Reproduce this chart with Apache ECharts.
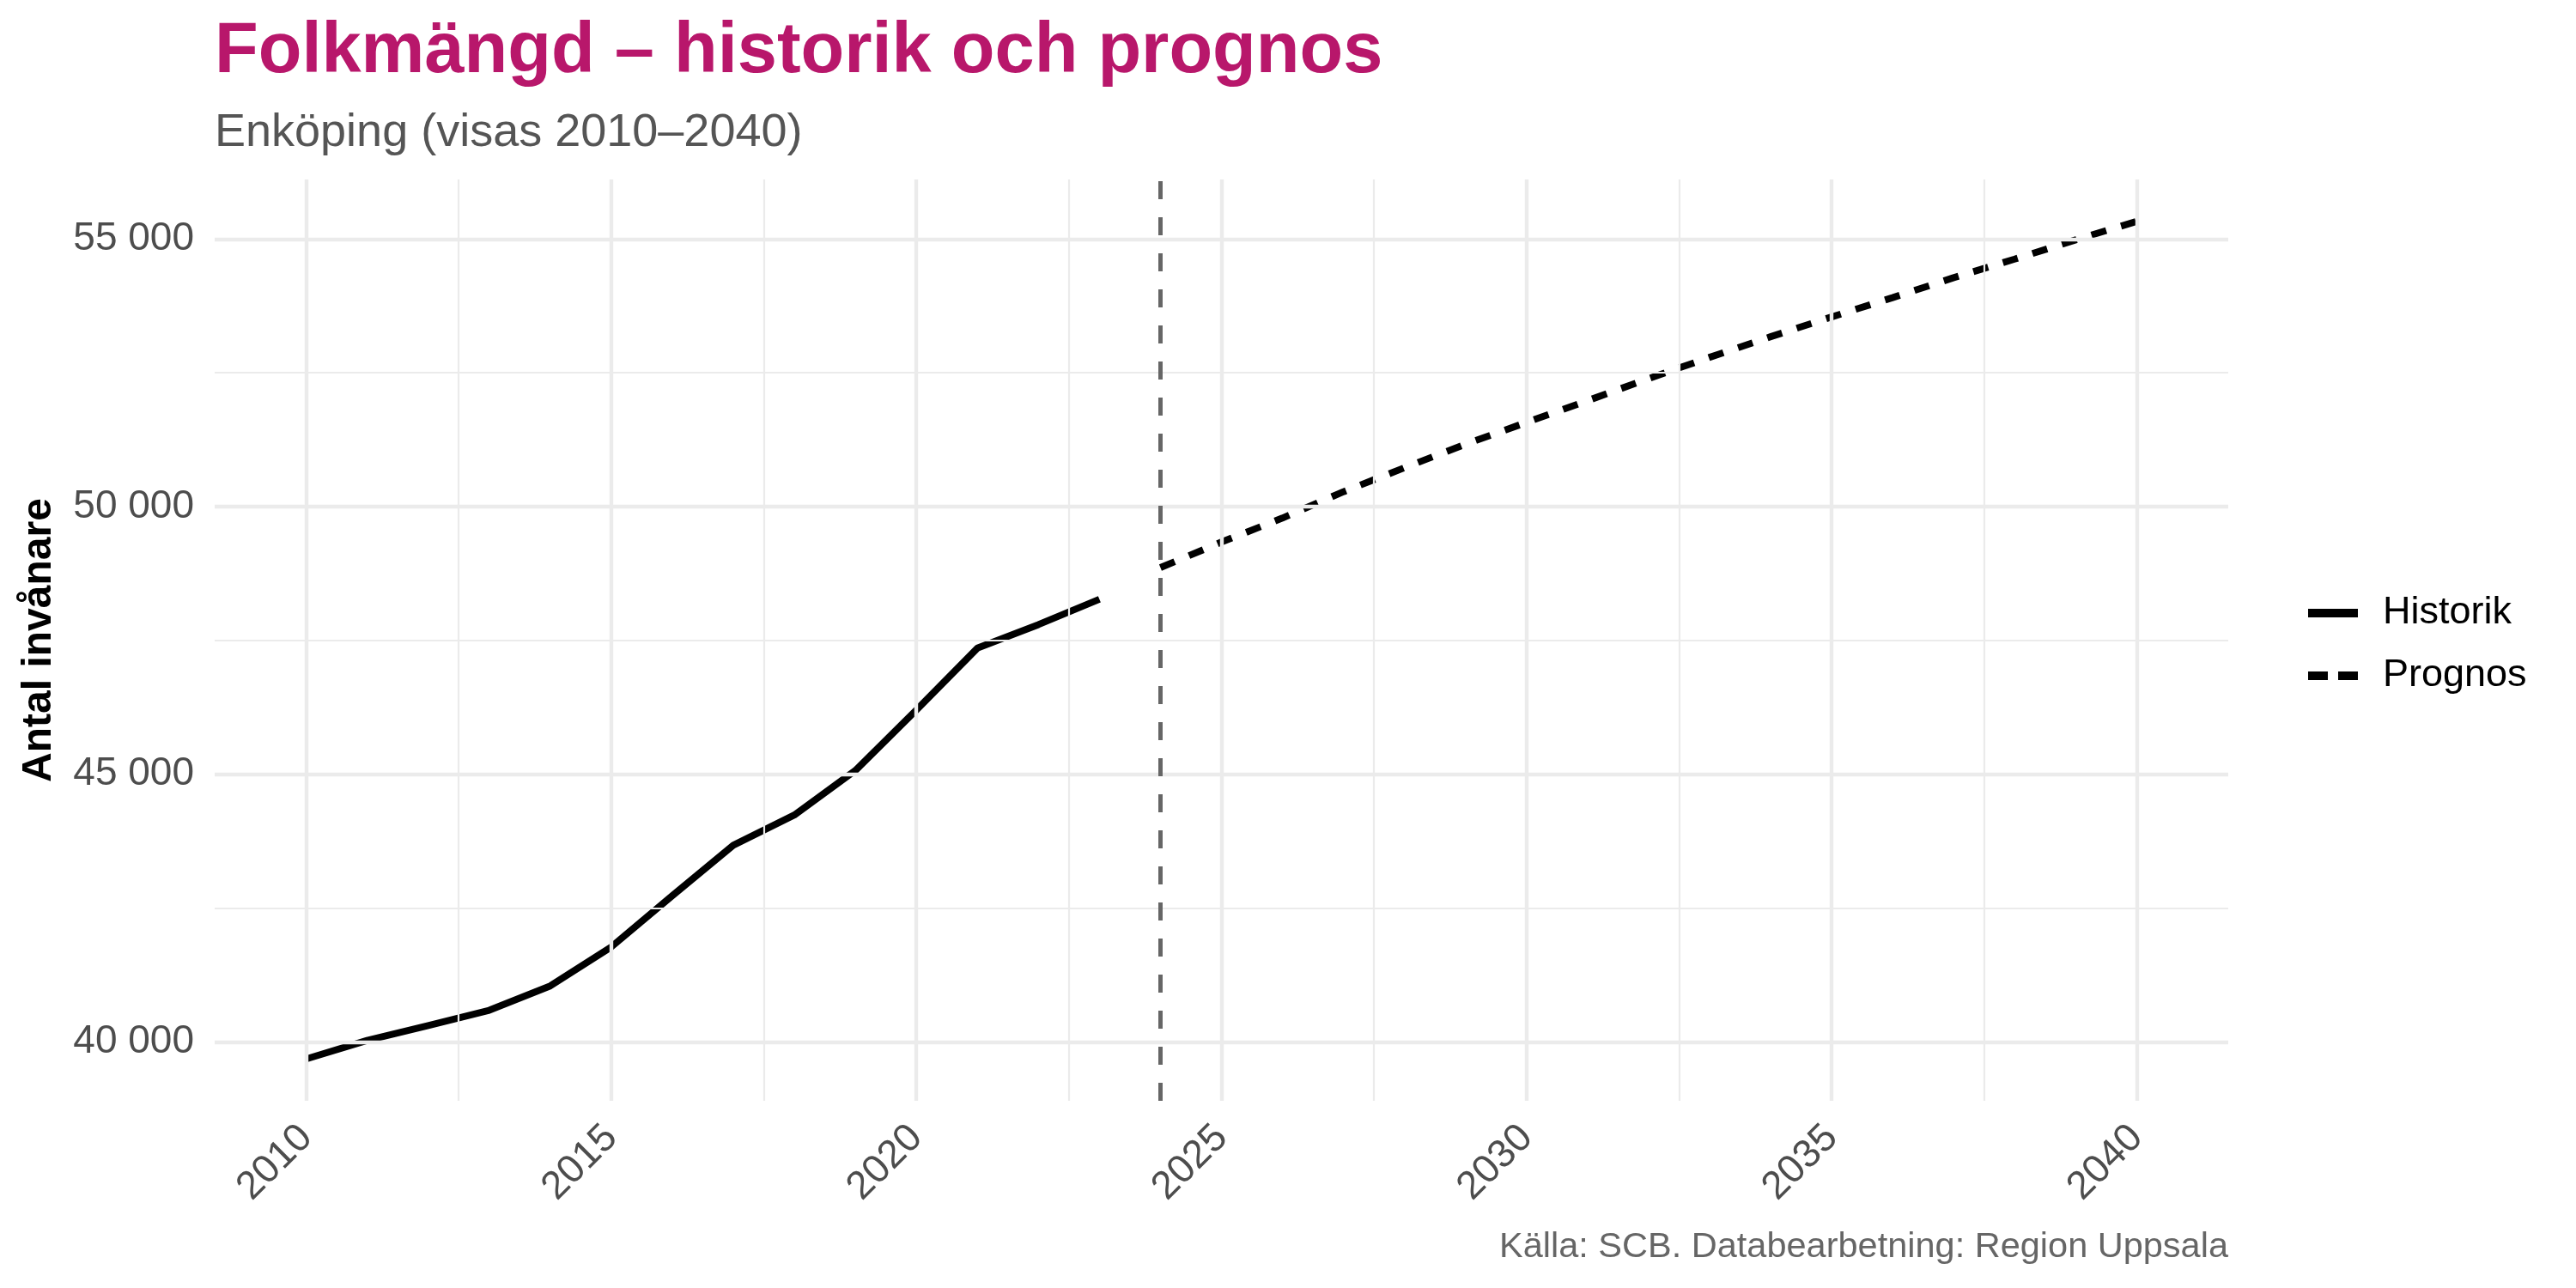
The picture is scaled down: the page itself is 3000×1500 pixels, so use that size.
<!DOCTYPE html>
<html>
<head>
<meta charset="utf-8">
<script src="https://cdn.jsdelivr.net/npm/echarts@6/dist/echarts.min.js"></script>
<style>
  html, body { margin: 0; padding: 0; background: #ffffff; }
  #chart { width: 3000px; height: 1500px; }
</style>
</head>
<body>
<div id="chart"></div>
<script>
// ---- Data ----
const histYears = [2010, 2011, 2012, 2013, 2014, 2015, 2016, 2017, 2018, 2019, 2020, 2021, 2022, 2023];
const histValues = [39680, 40027, 40305, 40589, 41044, 41773, 42730, 43672, 44237, 45069, 46198, 47355, 47795, 48269];
const progYears = [2024, 2025, 2026, 2027, 2028, 2029, 2030, 2031, 2032, 2033, 2034, 2035, 2036, 2037, 2038, 2039, 2040];
const progValues = [48860, 49337, 49786, 50278, 50727, 51167, 51573, 51980, 52392, 52789, 53174, 53544, 53905, 54277, 54624, 54984, 55330];
const yTickValues = [40000, 45000, 50000, 55000];
const yMinorValues = [42500, 47500, 52500];
const xTickValues = [2010, 2015, 2020, 2025, 2030, 2035, 2040];
const xMinorValues = [2012.5, 2017.5, 2022.5, 2027.5, 2032.5, 2037.5];
const forecastStart = 2024;
const seriesNames = ['Historik', 'Prognos'];
const titleText = 'Folkmängd – historik och prognos';
const subtitleText = 'Enköping (visas 2010–2040)';
const captionText = 'Källa: SCB. Databearbetning: Region Uppsala';
const yAxisTitle = 'Antal invånare';

// ---- Build ----
const histData = histYears.map((y, i) => [y, histValues[i]]);
const progData = progYears.map((y, i) => [y, progValues[i]]);
const allYears = histYears.concat(progYears);
const allVals = histValues.concat(progValues);
const xLo = Math.min(...allYears), xHi = Math.max(...allYears);
const vLo = Math.min(...allVals), vHi = Math.max(...allVals);
const xPad = (xHi - xLo) * 0.05, vPad = (vHi - vLo) * 0.05;

const FONT = 'Liberation Sans, Arial, sans-serif';
const GRID = '#EBEBEB';
const fmt = v => String(Math.round(v)).replace(/\B(?=(\d{3})+(?!\d))/g, ' ');

const gridLines = []
  .concat(yTickValues.map(v => ({ yAxis: v, lineStyle: { color: GRID, width: 4.4, type: 'solid' } })))
  .concat(yMinorValues.map(v => ({ yAxis: v, lineStyle: { color: GRID, width: 2.2, type: 'solid' } })))
  .concat(xTickValues.map(v => ({ xAxis: v, lineStyle: { color: GRID, width: 4.4, type: 'solid' } })))
  .concat(xMinorValues.map(v => ({ xAxis: v, lineStyle: { color: GRID, width: 2.2, type: 'solid' } })));

const chart = echarts.init(document.getElementById('chart'), null, { renderer: 'canvas' });
chart.setOption({
  animation: false,
  backgroundColor: '#ffffff',
  textStyle: { fontFamily: FONT },
  title: [
    { text: titleText, left: 250, top: 19, padding: 0,
      textStyle: { fontFamily: FONT, fontSize: 83, lineHeight: 84, fontWeight: 'bold', color: '#B8176B' } },
    { text: subtitleText, left: 250, top: 128, padding: 0,
      textStyle: { fontFamily: FONT, fontSize: 54, lineHeight: 54, fontWeight: 'normal', color: '#555555' } },
    { text: captionText, right: 405, top: 1432, padding: 0,
      textStyle: { fontFamily: FONT, fontSize: 41.5, lineHeight: 42, fontWeight: 'normal', color: '#666666' } }
  ],
  grid: { left: 250, right: 405, top: 209, bottom: 218 },
  legend: {
    data: [
      { name: seriesNames[0], icon: 'rect' },
      { name: seriesNames[1], icon: 'path://M0,0H23V10H0Z M35,0H58V10H35Z' }
    ],
    orient: 'vertical',
    left: 2683,
    top: 684,
    itemWidth: 58,
    itemHeight: 10,
    itemGap: 23,
    textStyle: { fontFamily: FONT, fontSize: 45, lineHeight: 50, color: '#000000', padding: [0, 0, 0, 24] }
  },
  xAxis: {
    type: 'value',
    min: xLo - xPad,
    max: xHi + xPad,
    axisLine: { show: false },
    axisTick: { show: false },
    splitLine: { show: false },
    axisLabel: {
      customValues: xTickValues,
      rotate: 45,
      margin: 36,
      fontFamily: FONT,
      fontSize: 46,
      color: '#4D4D4D',
      formatter: v => String(v)
    }
  },
  yAxis: {
    type: 'value',
    min: vLo - vPad,
    max: vHi + vPad,
    name: yAxisTitle,
    nameLocation: 'middle',
    nameRotate: 90,
    nameGap: 180,
    nameTextStyle: { fontFamily: FONT, fontSize: 48, fontWeight: 'bold', color: '#000000' },
    axisLine: { show: false },
    axisTick: { show: false },
    splitLine: { show: false },
    axisLabel: {
      customValues: yTickValues,
      margin: 24,
      fontFamily: FONT,
      fontSize: 46,
      color: '#4D4D4D',
      formatter: v => fmt(v)
    }
  },
  series: [
    {
      name: '__grid', type: 'line', data: [], z: 1, silent: true,
      markLine: { silent: true, symbol: ['none', 'none'], label: { show: false }, animation: false, data: gridLines }
    },
    {
      name: '__vline', type: 'line', data: [], z: 2, silent: true,
      markLine: { silent: true, symbol: ['none', 'none'], label: { show: false }, animation: false,
        data: [{ xAxis: forecastStart, lineStyle: { color: '#666666', width: 5, type: [21, 21] } }] }
    },
    {
      name: seriesNames[0], type: 'line', data: histData, z: 3,
      symbol: 'none', showSymbol: false,
      lineStyle: { color: '#000000', width: 8, type: 'solid', join: 'round' },
      itemStyle: { color: '#000000' }
    },
    {
      name: seriesNames[1], type: 'line', data: progData, z: 3,
      symbol: 'none', showSymbol: false,
      lineStyle: { color: '#000000', width: 8, type: [18, 18], cap: 'butt' },
      itemStyle: { color: '#000000' }
    }
  ]
});
</script>
</body>
</html>
